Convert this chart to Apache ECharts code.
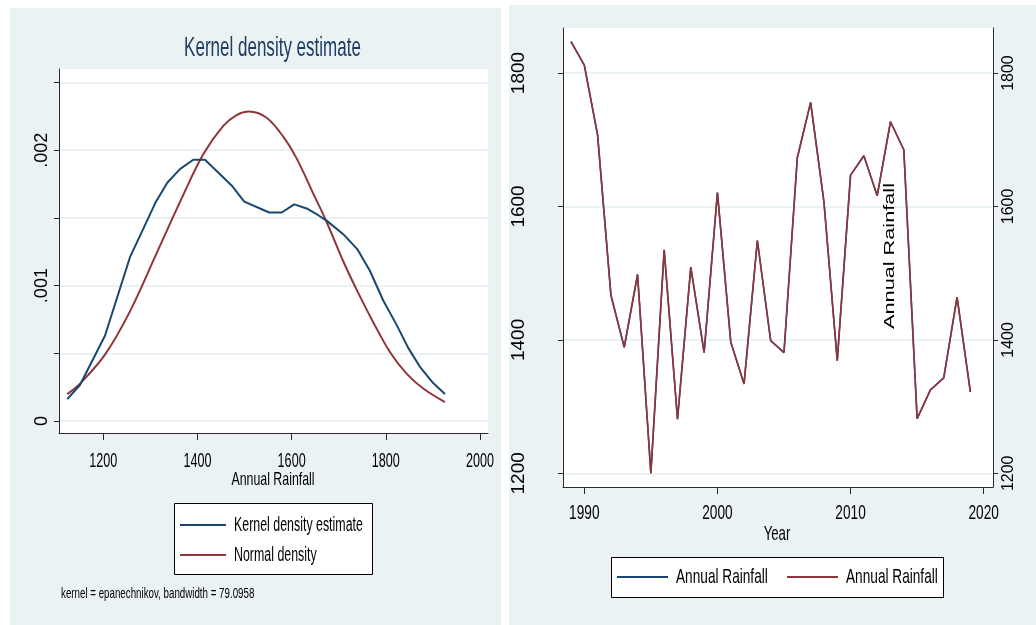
<!DOCTYPE html>
<html>
<head>
<meta charset="utf-8">
<script src="https://cdn.jsdelivr.net/npm/echarts@6/dist/echarts.min.js"></script>
<style>
  html, body { margin: 0; padding: 0; background: #ffffff; }
  #chart { width: 1036px; height: 625px; }
</style>
</head>
<body>
<div id="chart"></div>
<script>
// Left panel: kernel density of annual rainfall vs. fitted normal density
const densityTicks = [0, 0.0005, 0.001, 0.0015, 0.002, 0.0025];
const densityLabels = [0, 0.001, 0.002];
const rainfallTicks = [1200, 1400, 1600, 1800, 2000];

const kdeX = [1123.6, 1150.5, 1203.6, 1256.7, 1283.6, 1311.9, 1335.9, 1362.8, 1391, 1416,
              1472.6, 1499.4, 1552.5, 1578.8, 1605.5, 1631.8, 1656.5, 1674.3, 1709.6, 1739.3,
              1766.2, 1794.5, 1822.9, 1847.6, 1872.4, 1900.6, 1925.5];
const kdeY = [0.000162, 0.000266, 0.00063, 0.00121, 0.00141, 0.00162, 0.00176, 0.00186, 0.00193, 0.00193,
              0.00174, 0.00162, 0.00154, 0.00154, 0.00160, 0.00157, 0.00152, 0.00148, 0.00138, 0.00127,
              0.00111, 0.00089, 0.00071, 0.00054, 0.00040, 0.00028, 0.00020];

const normX = [1123.6, 1150.5, 1203.6, 1256.7, 1313.4, 1369.9, 1412.3, 1454.8, 1483.2, 1509.3,
               1546.9, 1582.2, 1610.6, 1645.9, 1674.3, 1709.6, 1738, 1773.2, 1808.7, 1844.1,
               1879.4, 1925.5];
const normY = [0.000199, 0.000275, 0.00049, 0.00081, 0.00124, 0.00167, 0.00197, 0.00218, 0.00226, 0.002286,
               0.00224, 0.00210, 0.00194, 0.00168, 0.00147, 0.00118, 0.00097, 0.00073, 0.00051, 0.00035,
               0.00024, 0.00014];

// Right panel: annual rainfall time series
const yearTicks = [1990, 2000, 2010, 2020];
const rainTicks = [1200, 1400, 1600, 1800];
const years = [1989, 1990, 1991, 1992, 1993, 1994, 1995, 1996, 1997, 1998,
               1999, 2000, 2001, 2002, 2003, 2004, 2005, 2006, 2007, 2008,
               2009, 2010, 2011, 2012, 2013, 2014, 2015, 2016, 2017, 2018, 2019];
const rainfall = [1847, 1812, 1707, 1467, 1389, 1498, 1200, 1535, 1281, 1509,
                  1381, 1621, 1397, 1334, 1549, 1399, 1381, 1673, 1756, 1607,
                  1369, 1647, 1676, 1616, 1727, 1685, 1282, 1325, 1343, 1464, 1322];

const SANS = '"Liberation Sans", Arial, sans-serif';
const PANEL = '#eaf2f3';
const AXIS = '#2b2b2b';
const NAVY = '#1a476f';
const MAROON = '#90353b';
const SQUEEZE = 0.63;   // horizontal compression for the narrow label face

const pairs = (xs, ys) => xs.map((x, i) => [x, ys[i]]);
const densityFmt = v => (v === 0 ? '0' : String(v).replace(/^0/, ''));
const plainFmt = v => String(v);

// condensed text: regular sans face squeezed horizontally
function narrowText(text, x, y, size, opts = {}) {
  return {
    type: 'text', silent: true, z: 60,
    x: x, y: y, scaleX: opts.scale || SQUEEZE,
    style: {
      text: text, fontFamily: SANS, fontSize: size, fill: opts.color || '#000',
      align: opts.align || 'center', verticalAlign: 'middle'
    }
  };
}

function legendBox(x, y, w, h) {
  return {
    type: 'rect', silent: true, z: 55,
    shape: { x: x + 0.5, y: y + 0.5, width: w, height: h },
    style: { fill: '#fff', stroke: '#000', lineWidth: 1 }
  };
}

function legendKey(x1, x2, y, color) {
  return {
    type: 'line', silent: true, z: 58,
    shape: { x1: x1, y1: y, x2: x2, y2: y },
    style: { stroke: color, lineWidth: 2.2 }
  };
}

const chart = echarts.init(document.getElementById('chart'), null, { renderer: 'canvas' });

const baseGraphic = [
  { type: 'rect', z: -10, silent: true, shape: { x: 10, y: 8, width: 491, height: 617 }, style: { fill: PANEL } },
  { type: 'rect', z: -10, silent: true, shape: { x: 509, y: 5, width: 527, height: 620 }, style: { fill: PANEL } },
  {
    type: 'text', z: 50, silent: true,
    x: 890, y: 256, rotation: Math.PI / 2, scaleX: 1.4,
    style: {
      text: 'Annual Rainfall', fontFamily: SANS, fontSize: 15.5, fill: '#000',
      align: 'center', verticalAlign: 'middle'
    }
  }
];

const option = {
  animation: false,
  backgroundColor: '#ffffff',
  graphic: baseGraphic,
  grid: [
    { left: 59, top: 69, width: 429, height: 364, show: true, backgroundColor: '#fff', borderWidth: 0 },
    { left: 563, top: 28, width: 430, height: 459, show: true, backgroundColor: '#fff', borderWidth: 0 }
  ],
  xAxis: [
    {
      gridIndex: 0, type: 'value', min: 1106, max: 2017,
      axisLine: { show: true, onZero: false, lineStyle: { color: AXIS, width: 1 } },
      axisTick: { show: true, length: 7, customValues: rainfallTicks, lineStyle: { color: AXIS } },
      axisLabel: { show: false, customValues: rainfallTicks },
      splitLine: { show: false }
    },
    {
      gridIndex: 1, type: 'value', min: 1988.4, max: 2020.7,
      axisLine: { show: true, onZero: false, lineStyle: { color: AXIS, width: 1 } },
      axisTick: { show: true, length: 7, customValues: yearTicks, lineStyle: { color: AXIS } },
      axisLabel: { show: false, customValues: yearTicks },
      splitLine: { show: false }
    }
  ],
  yAxis: [
    {
      gridIndex: 0, type: 'value', min: -0.0000886, max: 0.0026,
      axisLine: { show: true, onZero: false, lineStyle: { color: AXIS, width: 1 } },
      axisTick: { show: true, length: 5, customValues: densityTicks, lineStyle: { color: AXIS } },
      axisLabel: {
        customValues: densityLabels, formatter: densityFmt, rotate: 90,
        fontFamily: SANS, fontSize: 18, color: '#000', margin: 8
      },
      splitLine: { show: true, lineStyle: { color: PANEL, width: 2 } }
    },
    {
      gridIndex: 1, type: 'value', position: 'left', min: 1179.5, max: 1867.5,
      axisLine: { show: true, onZero: false, lineStyle: { color: AXIS, width: 1 } },
      axisTick: { show: true, length: 5, customValues: rainTicks, lineStyle: { color: AXIS } },
      axisLabel: {
        customValues: rainTicks, formatter: plainFmt, rotate: 90,
        fontFamily: SANS, fontSize: 19, color: '#000', margin: 35
      },
      splitLine: { show: true, lineStyle: { color: PANEL, width: 2 } }
    },
    {
      gridIndex: 1, type: 'value', position: 'right', min: 1179.5, max: 1867.5,
      axisLine: { show: true, onZero: false, lineStyle: { color: AXIS, width: 1 } },
      axisTick: { show: true, length: 5, customValues: rainTicks, lineStyle: { color: AXIS } },
      axisLabel: {
        customValues: rainTicks, formatter: plainFmt, rotate: 90,
        fontFamily: SANS, fontSize: 16, color: '#000', margin: 8
      },
      splitLine: { show: false }
    }
  ],
  series: [
    {
      name: 'Kernel density estimate', type: 'line', xAxisIndex: 0, yAxisIndex: 0,
      data: pairs(kdeX, kdeY), symbol: 'none', color: NAVY,
      lineStyle: { width: 2, color: NAVY }, z: 3
    },
    {
      name: 'Normal density', type: 'line', xAxisIndex: 0, yAxisIndex: 0,
      data: pairs(normX, normY), symbol: 'none', smooth: 0.35, color: MAROON,
      lineStyle: { width: 2, color: MAROON }, z: 2
    },
    {
      name: 'Annual Rainfall', type: 'line', xAxisIndex: 1, yAxisIndex: 1,
      data: pairs(years, rainfall), symbol: 'none', color: NAVY,
      lineStyle: { width: 1.6, color: NAVY }, z: 2
    },
    {
      name: 'Annual Rainfall (fit)', type: 'line', xAxisIndex: 1, yAxisIndex: 1,
      data: pairs(years, rainfall), symbol: 'none', color: MAROON,
      lineStyle: { width: 1.6, color: MAROON }, z: 3
    }
  ]
};

chart.setOption(option);

// Narrow-face texts: titles, axis titles, tick labels and legends
const texts = [];
texts.push(narrowText('Kernel density estimate', 272.5, 49, 27, { color: '#1e3d63' }));
texts.push(narrowText('kernel = epanechnikov, bandwidth = 79.0958', 61, 594, 15, { align: 'left', scale: 0.65 }));

// left x-axis tick labels and title
const leftBase = chart.convertToPixel({ gridIndex: 0 }, [1106, -0.0000886]);
rainfallTicks.forEach(v => {
  const px = chart.convertToPixel({ gridIndex: 0 }, [v, -0.0000886]);
  texts.push(narrowText(String(v), px[0], leftBase[1] + 28, 20));
});
texts.push(narrowText('Annual Rainfall', 273, leftBase[1] + 47, 19, { scale: 0.65 }));

// right x-axis tick labels and title
const rightBase = chart.convertToPixel({ gridIndex: 1 }, [1988.4, 1179.5]);
yearTicks.forEach(v => {
  const px = chart.convertToPixel({ gridIndex: 1 }, [v, 1179.5]);
  texts.push(narrowText(String(v), px[0], rightBase[1] + 26, 21, { scale: 0.65 }));
});
texts.push(narrowText('Year', 777, rightBase[1] + 47, 21));

// left legend
texts.push(legendBox(174, 503, 198, 71));
texts.push(legendKey(180, 226, 525, NAVY));
texts.push(legendKey(180, 226, 555, MAROON));
texts.push(narrowText('Kernel density estimate', 234, 525, 20, { align: 'left', scale: 0.62 }));
texts.push(narrowText('Normal density', 234, 555, 20, { align: 'left', scale: 0.62 }));

// right legend
texts.push(legendBox(611, 557, 332, 40));
texts.push(legendKey(617, 668, 577, NAVY));
texts.push(legendKey(787, 838, 577, MAROON));
texts.push(narrowText('Annual Rainfall', 676, 577, 21, { align: 'left', scale: 0.65 }));
texts.push(narrowText('Annual Rainfall', 846, 577, 21, { align: 'left', scale: 0.65 }));

chart.setOption({ graphic: baseGraphic.concat(texts) });
</script>
</body>
</html>
